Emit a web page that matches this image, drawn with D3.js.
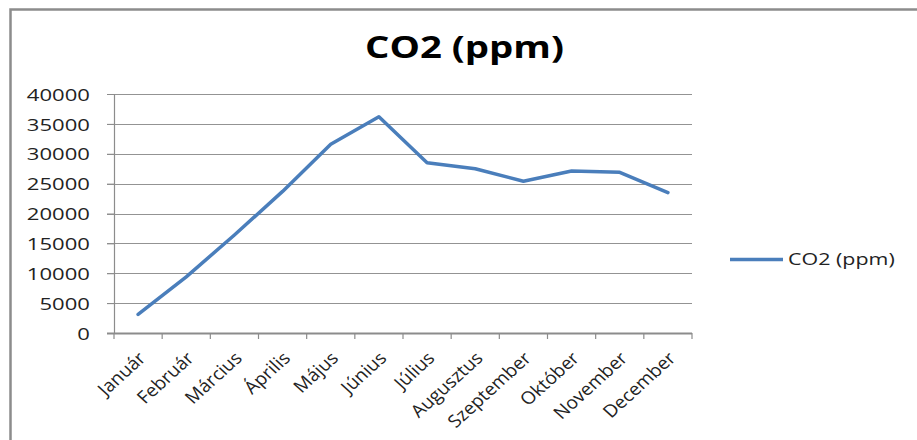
<!DOCTYPE html>
<html><head><meta charset="utf-8">
<script src="https://cdn.jsdelivr.net/npm/d3@7"></script>
<style>html,body{margin:0;padding:0;background:#fff;}svg{display:block;}</style>
</head><body>
<script>
const months = ["Január","Február","Március","Április","Május","Június","Július","Augusztus","Szeptember","Október","November","December"];
const co2 = [3100, 9400, 16400, 23700, 31600, 36200, 28500, 27500, 25400, 27100, 26900, 23500];
const yTicks = [0,5000,10000,15000,20000,25000,30000,35000,40000];
const seriesName = "CO2 (ppm)";
const chartTitle = "CO2 (ppm)";

(function () {
const W = 917, H = 440, SX = 1.3;
const font = "'Open Sans', sans-serif";
const svg = d3.select("body").append("svg").attr("width", W).attr("height", H);
svg.append("rect").attr("width", W).attr("height", H).attr("fill", "#fff");
svg.append("rect").attr("x", 10.5).attr("y", 9.5).attr("width", 1000).attr("height", 1000)
  .attr("fill", "none").attr("stroke", "#8c8c8c").attr("stroke-width", 2.5);

const pL = 114, pR = 692, pT = 94, pB = 333;
const x = d3.scaleBand().domain(months).range([pL, pR]);
const y = d3.scaleLinear().domain([0, 40000]).range([pB, pT]);

// title
svg.append("text").attr("transform", `translate(464.5,57.5) scale(${SX},1)`)
  .attr("text-anchor", "middle").attr("font-family", font).attr("font-weight", "bold")
  .attr("font-size", 29.5).attr("fill", "#000").text(chartTitle);

// gridlines
svg.append("g").selectAll("line").data(yTicks.filter(d => d > 0)).join("line")
  .attr("x1", pL - 7).attr("x2", pR).attr("y1", d => Math.round(y(d)) + 0.5).attr("y2", d => Math.round(y(d)) + 0.5)
  .attr("stroke", "#939393").attr("stroke-width", 1);

// y axis
const gy = svg.append("g").attr("transform", `translate(${pL},0)`)
  .call(d3.axisLeft(y).tickValues(yTicks).tickSize(7).tickPadding(24).tickFormat(d3.format("d")));
gy.select(".domain").attr("stroke", "#8c8c8c").attr("stroke-width", 1.2);
gy.selectAll(".tick line").attr("stroke", "#8c8c8c");
gy.selectAll(".tick text").attr("font-family", font).attr("font-size", 17).attr("fill", "#222")
  .attr("x", null)
  .attr("transform", `translate(-24,0) scale(${SX},1)`).attr("dy", "0.36em");

// x axis
const gx = svg.append("g").attr("transform", `translate(0,${pB})`);
gx.append("line").attr("x1", pL - 7).attr("x2", pR).attr("y1", 0.5).attr("y2", 0.5)
  .attr("stroke", "#8c8c8c").attr("stroke-width", 2);
const bounds = months.map(m => x(m)).concat([pR]);
gx.selectAll("line.tk").data(bounds).join("line").attr("class", "tk")
  .attr("x1", d => d).attr("x2", d => d).attr("y1", 0).attr("y2", 6).attr("stroke", "#8c8c8c").attr("stroke-width", 1.2);
gx.selectAll("text").data(months).join("text")
  .attr("transform", d => `translate(${x(d) + x.bandwidth() / 2 + 4},${22}) scale(1.1,1) rotate(-45)`)
  .attr("text-anchor", "end").attr("dy", "0.35em")
  .attr("font-family", font).attr("font-size", 17.5).attr("fill", "#222").text(d => d);

// line
svg.append("path").datum(co2)
  .attr("d", d3.line().x((d, i) => x(months[i]) + x.bandwidth() / 2).y(d => y(d)))
  .attr("fill", "none").attr("stroke", "#4a7ebb").attr("stroke-width", 3.5)
  .attr("stroke-linejoin", "round").attr("stroke-linecap", "round");

// legend
const lg = svg.append("g");
lg.append("line").attr("x1", 730).attr("x2", 783).attr("y1", 259.5).attr("y2", 259.5)
  .attr("stroke", "#4a7ebb").attr("stroke-width", 3.5);
lg.append("text").attr("transform", `translate(788,259.5) scale(${SX},1)`).attr("dy", "0.36em")
  .attr("font-family", font).attr("font-size", 16.5).attr("fill", "#222").text(seriesName);
})();
</script>
</body></html>
